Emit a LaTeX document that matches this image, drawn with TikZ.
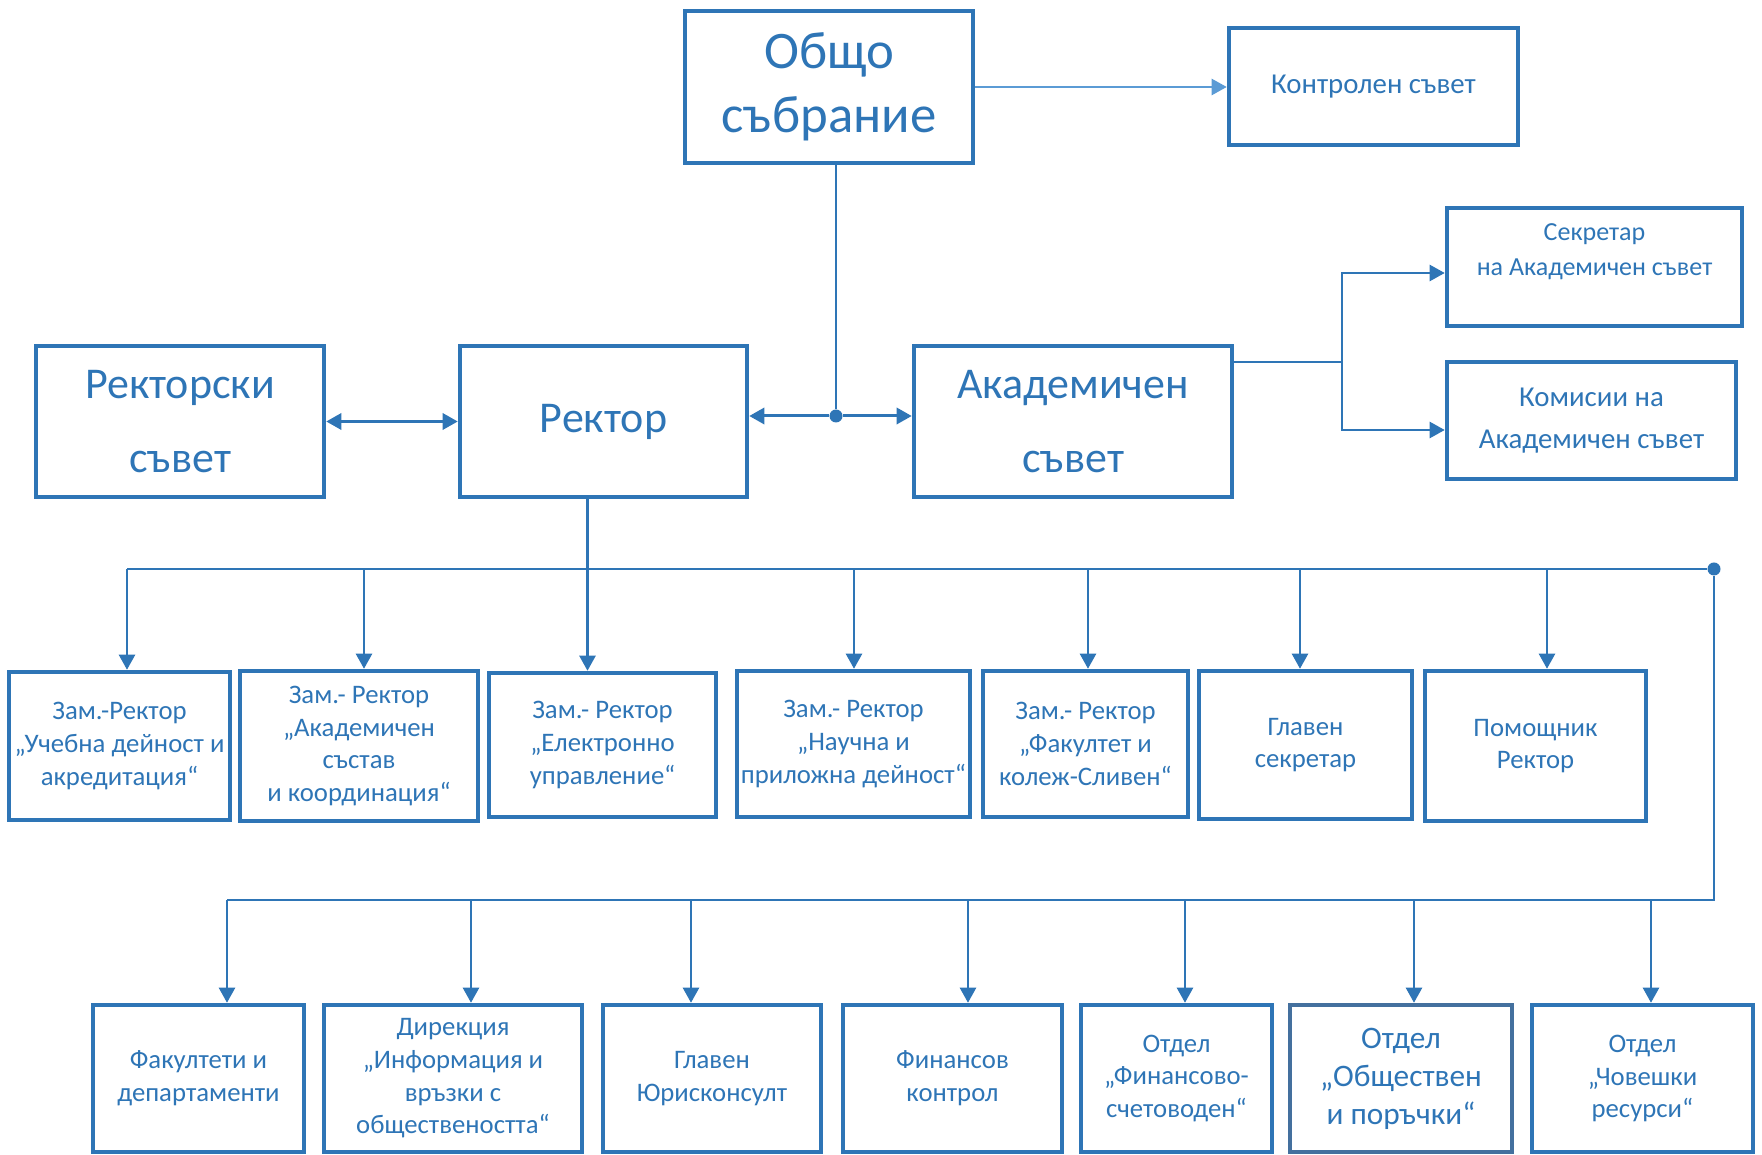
\documentclass[tikz,border=0pt]{standalone}
\usepackage{fontspec}
\setmainfont{Carlito}
\usetikzlibrary{arrows.meta, positioning}
\definecolor{chartblue}{RGB}{46,117,182}
\definecolor{paleblue}{RGB}{91,155,213}
\definecolor{greyblue}{RGB}{68,112,158}

\begin{document}
\begin{tikzpicture}[x=0.01cm, y=-0.01cm, text=chartblue,
	font=\fontsize{7.6}{9.3}\selectfont]
% Setup the styles for the boxes and the lines
\tikzset{unit box/.style={draw=chartblue, line width=0.045cm,
		align=center, inner sep=0pt},
	wh/.style 2 args={minimum width=#1*0.01cm, minimum height=#2*0.01cm},
	big text/.style={font=\fontsize{12.5}{21}\selectfont},
	link/.style={draw=chartblue, line width=0.022cm},
	tip/.style={-{Triangle[length=4.3pt, width=4.6pt]}},
	hub dot/.style={circle, fill=chartblue, inner sep=0pt, minimum size=0.13cm}}
\useasboundingbox (0, 0) rectangle (1762, 1155);

% Draw the top boxes
\node[unit box, wh={288}{152}, font=\fontsize{15}{18.2}\selectfont] at (829, 87) (assembly) {Общо\\събрание};
\node[unit box, wh={289}{117}, font=\fontsize{8.2}{10}\selectfont] at (1373.5, 86.5) (control) {Контролен съвет};

% Draw the middle boxes
\node[unit box, wh={288}{151}, big text] at (180, 421.5)    (rcouncil) {Ректорски\\съвет};
\node[unit box, wh={287}{151}, big text] at (603.5, 421.5)  (rector)   {Ректор};
\node[unit box, wh={318}{151}, big text] at (1073, 421.5)   (acouncil) {Академичен\\съвет};
\node[unit box, wh={295}{118}, font=\fontsize{7.4}{10}\selectfont] at (1594.5, 267) (secretary) {Секретар\\на Академичен съвет\\~};
\node[unit box, wh={289}{117}, font=\fontsize{8.2}{11.8}\selectfont] at (1591.5, 420.5) (commissions) {Комисии на\\Академичен съвет};

% Draw the first row
\node[unit box, wh={221}{148}] at (119.5, 746)  (r1a) {Зам.-Ректор\\„Учебна дейност и\\акредитация“};
\node[unit box, wh={238}{150}] at (359, 746)    (r1b) {Зам.- Ректор\\„Академичен\\състав\\и координация“};
\node[unit box, wh={227}{144}] at (602.5, 745)  (r1c) {Зам.- Ректор\\„Електронно\\управление“};
\node[unit box, wh={233}{146}] at (853.5, 744)  (r1d) {Зам.- Ректор\\„Научна и\\приложна дейност“};
\node[unit box, wh={205}{146}] at (1085.5, 744) (r1e) {Зам.- Ректор\\„Факултет и\\колеж-Сливен“};
\node[unit box, wh={213}{148}] at (1305.5, 745) (r1f) {Главен\\секретар};
\node[unit box, wh={221}{150}] at (1535.5, 746) (r1g) {Помощник\\Ректор};

% Draw the second row
\node[unit box, wh={211}{147}] at (198.5, 1078.5)  (r2a) {Факултети и\\департаменти};
\node[unit box, wh={258}{147}] at (453, 1078.5)    (r2b) {Дирекция\\„Информация и\\връзки с\\обществеността“};
\node[unit box, wh={218}{147}] at (712, 1078.5)    (r2c) {Главен\\Юрисконсулт};
\node[unit box, wh={219}{147}] at (952.5, 1078.5)  (r2d) {Финансов\\контрол};
\node[unit box, wh={191}{147}] at (1176.5, 1078.5) (r2e) {Отдел\\„Финансово-\\счетоводен“};
\node[unit box, wh={222}{147}, draw=greyblue, font=\fontsize{8.9}{10.8}\selectfont] at (1401, 1078.5) (r2f) {Отдел\\„Обществен\\и поръчки“};
\node[unit box, wh={221}{147}] at (1642.5, 1078.5) (r2g) {Отдел\\„Човешки\\ресурси“};

% Junction points
\node[hub dot] at (836, 416)  (hub)    {};
\node[hub dot] at (1714, 569) (busend) {};
\coordinate (bustwo) at (1714, 900);
\coordinate (split) at (1342, 362);

% Connect the top and middle boxes
\draw[link, draw=paleblue, tip] (assembly.east) -- (assembly.east -| control.west);
\draw[link] (hub |- assembly.south) -- (hub);
\draw[link, line width=0.03cm, tip] (hub) -- (hub -| rector.east);
\draw[link, line width=0.03cm, tip] (hub) -- (hub -| acouncil.west);
\draw[link, line width=0.03cm, {Triangle[length=4.3pt, width=4.6pt]}-{Triangle[length=4.3pt, width=4.6pt]}] (rcouncil) -- (rector);
\draw[link] (split -| acouncil.east) -- (split);
\draw[link, tip] (split) |- ([yshift=-0.06cm]secretary.west);
\draw[link, tip] (split) |- ([yshift=-0.095cm]commissions.west);

% Connect the rector with the first row
\coordinate (top-r1c) at ([xshift=-0.15cm]r1c.north);
\draw[link, tip] (top-r1c |- rector.south) -- (top-r1c);
\foreach \nm/\dx in {r1a/7.5, r1b/5, r1d/0.5, r1e/2.5, r1f/-5.5, r1g/11.5} {
	\coordinate (top-\nm) at ([xshift=\dx*0.01cm]\nm.north);
	\draw[link, tip] (top-\nm |- busend) -- (top-\nm);
}
\draw[link] (top-r1a |- busend) -- (busend);

% Connect the second row
\foreach \nm/\dx in {r2a/28.5, r2b/18, r2c/-21, r2d/15.5, r2e/8.5, r2f/13, r2g/8.5} {
	\coordinate (top-\nm) at ([xshift=\dx*0.01cm]\nm.north);
	\draw[link, tip] (top-\nm |- bustwo) -- (top-\nm);
}
\draw[link] (busend) -- (bustwo) -- (top-r2a |- bustwo);
\end{tikzpicture}
\end{document}
